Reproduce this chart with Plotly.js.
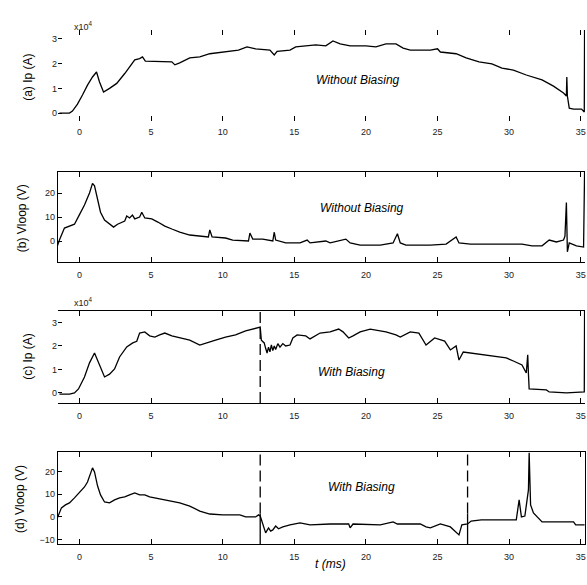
<!DOCTYPE html>
<html><head><meta charset="utf-8">
<script src="https://cdn.plot.ly/plotly-3.0.1.min.js"></script>
<style>body{margin:0;background:#fff}#c{width:587px;height:585px}</style>
</head><body><div id="c"></div>
<script>
// (a) Ip without biasing, units of 1e4 A
const tA = [-1.4,-0.7,-0.49,-0.14,0.21,0.56,0.91,1.19,1.4,1.68,2.1,2.6,3.16,3.58,3.86,4.2,4.4,4.6,5.6,6.45,6.66,7.0,7.7,8.4,9.1,10.2,11.1,11.7,12.3,13.3,13.6,13.8,14.7,15.1,15.8,16.5,17.2,17.7,18.2,18.9,20.0,20.7,21.4,22.1,22.6,23.1,24.5,25.0,25.2,26.3,27.0,27.9,28.8,29.5,30.3,31.2,32.3,33.1,33.8,34.0,34.03,34.07,34.2,34.5,35.06,35.25,35.27];
const ipA = [0,0,0.08,0.36,0.73,1.13,1.46,1.66,1.26,0.85,1.0,1.2,1.6,1.95,2.15,2.2,2.27,2.1,2.07,2.07,1.95,2.03,2.23,2.27,2.4,2.47,2.55,2.68,2.6,2.55,2.35,2.5,2.55,2.68,2.72,2.76,2.72,2.92,2.8,2.72,2.72,2.68,2.8,2.8,2.63,2.55,2.55,2.6,2.47,2.4,2.23,2.07,1.99,1.82,1.74,1.54,1.34,1.09,0.81,0.69,1.46,0.69,0.2,0.16,0.16,0.04,3.4];
// (b) Vloop without biasing, V
const tB = [-1.54,-1.4,-1.05,-0.7,-0.35,0,0.35,0.7,0.91,1.05,1.26,1.47,1.75,2.1,2.38,2.66,3.16,3.3,3.5,3.7,3.86,4.2,4.35,4.56,5.05,5.47,5.96,6.45,7.0,7.7,8.4,9.0,9.1,9.26,10.2,10.7,11.8,11.9,12.1,12.8,13.5,13.6,13.7,14.4,15.4,15.9,16.1,17.2,17.5,18.6,18.9,19.6,21.0,21.9,22.2,22.4,22.8,24.5,25.6,26.1,26.3,26.5,27.3,29.5,30.9,31.6,32.3,32.8,33.3,33.8,33.9,34.0,34.07,34.2,34.7,35.2,35.27];
const vB = [-2,0.4,5.4,6.2,7,11,15,20,24,23,17,12,8.7,7,5.8,7,8.3,10.4,9.6,10.8,9.2,10,12,9.6,9.2,7.9,6.2,5,3.75,2.5,2.1,1.7,4.6,1.7,1.25,0.4,0,3.3,0.8,0.8,0,3.75,0.4,-0.8,-0.8,0.4,-0.8,0,-0.8,0.8,-0.8,-1.7,-1.7,-0.8,3,-0.8,-1.7,-1.7,-1.3,0.8,1.7,-0.8,-1.3,-1.3,-1.3,-2,-2,0.4,-0.4,0.4,2,16,-4.5,-0.8,-2,-2.5,28.7];
// (c) Ip with biasing, units of 1e4 A
const tC = [-1.4,-0.7,-0.35,-0.07,0.35,0.7,1.05,1.4,1.75,2.1,2.45,2.8,3.3,3.72,4.0,4.2,4.56,4.9,5.26,5.6,5.96,6.45,7.0,7.7,8.4,9.0,9.5,10.2,10.9,11.6,12.06,12.62,12.7,12.9,13.0,13.1,13.2,13.3,13.4,13.5,13.6,13.7,13.85,14.0,14.2,14.4,14.7,14.9,15.2,15.8,16.1,16.8,17.5,18.1,18.4,18.8,19.1,19.6,20.3,21.4,22.1,22.4,23.1,23.7,24.2,24.8,25.5,25.9,26.3,26.5,26.8,27.3,28.8,29.8,30.3,30.9,31.2,31.3,31.35,31.4,32.6,32.8,34.0,35.06,35.25,35.27];
const ipC = [-0.05,-0.05,0,0.17,0.68,1.28,1.7,1.2,0.68,0.8,1.02,1.53,1.96,2.13,2.2,2.55,2.6,2.43,2.38,2.47,2.55,2.43,2.34,2.25,2.04,2.17,2.25,2.38,2.47,2.64,2.72,2.8,2.25,2.13,1.9,1.7,1.95,1.75,2.05,1.8,2.0,1.85,2.1,1.95,2.1,2.0,2.04,2.34,2.47,2.43,2.3,2.55,2.6,2.72,2.6,2.34,2.43,2.6,2.72,2.6,2.47,2.38,2.6,2.55,2.04,2.34,2.21,1.83,2.0,1.4,1.74,1.7,1.57,1.49,1.36,1.19,0.85,1.62,0.81,0.17,0.13,0.04,0,0.04,0.04,3.5];
// (d) Vloop with biasing, V
const tD = [-1.54,-1.26,-0.98,-0.7,-0.35,0,0.35,0.56,0.77,0.91,1.05,1.26,1.47,1.75,2.1,2.45,2.8,3.16,3.5,3.86,4.2,4.56,4.9,5.6,6.3,7.0,7.7,8.4,9.1,10.0,11.2,11.6,12.3,12.5,12.62,12.8,12.9,13.0,13.2,13.35,13.5,13.7,13.9,14.2,14.7,15.4,16.1,17.5,18.8,18.9,19.1,21.0,21.9,22.2,23.8,24.2,24.5,25.2,25.9,26.3,26.5,26.7,27.1,27.35,28.05,29.45,30.5,30.7,30.86,31.1,31.35,31.4,31.5,31.7,32.3,34.5,34.65,35.27];
const vD = [-0.4,4,5.3,6.2,8.4,11,13.2,15.4,19,21.6,19.8,13.7,9.7,6.6,6.2,7.5,8.4,8.8,9.7,10.6,9.7,9.7,8.8,7.9,7.0,6.2,4.8,2.6,1.3,0.9,0.9,0,0,0.9,0.4,-3.1,-5.7,-7,-4.8,-6.2,-5.7,-4,-5.2,-4.4,-3.5,-2.6,-3.5,-3.1,-3.1,-4.8,-3.1,-3.5,-2.2,-3.1,-3.1,-4.4,-4.8,-3.1,-4.4,-6.6,-7.9,-3.5,-3.1,-1.8,-1.3,-1.3,-1.3,7.5,0,0.4,11.9,28.2,5.3,1.8,-2.2,-2.2,-3.5,-3.5];
const biasOn = 12.62, biasOff = 27.1;
const xTicks = [0,5,10,15,20,25,30,35];
const ipTicks = [0,1,2,3];
const vTicksB = [0,10,20];
const vTicksD = [-10,0,10,20];
const panelLabels = ['(a) Ip (A)','(b) Vloop (V)','(c) Ip (A)','(d) Vloop (V)'];
const panelNotes = ['Without Biasing','Without Biasing','With Biasing','With Biasing'];

const FONT = 'Liberation Sans, Arial, sans-serif';
const line = {color:'#000', width:1.3};
const traces = [
  {x:tA, y:ipA, xaxis:'x', yaxis:'y', mode:'lines', line},
  {x:tB, y:vB, xaxis:'x2', yaxis:'y2', mode:'lines', line},
  {x:tC, y:ipC, xaxis:'x3', yaxis:'y3', mode:'lines', line},
  {x:tD, y:vD, xaxis:'x4', yaxis:'y4', mode:'lines', line}
];
const xr = [-1.5, 35.3];
function xa(anchor, showline){
  return {anchor, range:xr, tickvals:xTicks, ticks:'inside', ticklen:5, tickwidth:1, tickcolor:'#000',
    mirror: showline==='box' ? 'allticks' : 'ticks', showline: !!showline, linecolor:'#000', linewidth:1.3,
    ticklabelstandoff:4,
    showgrid:false, zeroline:false, tickfont:{family:FONT,size:9,color:'#222'}, domain:[0.0988,0.9966]};
}
function ya(anchor, dom, range, tv, showline){
  return {anchor, domain:dom, range, tickvals:tv, ticks:'inside', ticklen:4, tickwidth:1, tickcolor:'#000',
    showline: !!showline, mirror: showline==='box', linecolor:'#000', linewidth:1.3,
    showgrid:false, zeroline:false, tickfont:{family:FONT,size:9,color:'#222'}};
}
const ann = [];
const labelPos = [[28,0.867],[22,0.627],[28,0.39],[20,0.147]];
panelLabels.forEach((t,i)=>ann.push({text:t, xref:'paper', yref:'paper', x:labelPos[i][0]/587, y:labelPos[i][1],
  textangle:-90, showarrow:false, font:{family:FONT,size:12,color:'#000'}, xanchor:'center', yanchor:'middle'}));
const notePos = [[0.610,0.863],[0.617,0.644],[0.598,0.364],[0.615,0.1675]];
panelNotes.forEach((t,i)=>ann.push({text:'<i>'+t+'</i>', xref:'paper', yref:'paper', x:notePos[i][0], y:notePos[i][1],
  showarrow:false, font:{family:FONT,size:12,color:'#000'}, xanchor:'center', yanchor:'middle'}));
ann.push({text:'x10<sup>4</sup>', xref:'paper', yref:'paper', x:72/587, y:1-18/585, showarrow:false, font:{family:FONT,size:9,color:'#222'}});
ann.push({text:'x10<sup>4</sup>', xref:'paper', yref:'paper', x:72/587, y:1-302/585, showarrow:false, font:{family:FONT,size:9,color:'#222'}});
ann.push({text:'<i>t (ms)</i>', xref:'paper', yref:'paper', x:330/587, y:1-573/585, showarrow:false, font:{family:FONT,size:12,color:'#000'}});

const dash = {color:'#000', width:1.3, dash:'11px,5px'};
const shapes = [
  {type:'line', xref:'x3', yref:'y3 domain', x0:biasOn, x1:biasOn, y0:0, y1:1, line:dash},
  {type:'line', xref:'x4', yref:'y4 domain', x0:biasOn, x1:biasOn, y0:0.33, y1:1, line:dash},
  {type:'line', xref:'x4', yref:'y4 domain', x0:biasOn, x1:biasOn, y0:0, y1:0.33, line:{color:'#000',width:1.3}},
  {type:'line', xref:'x4', yref:'y4 domain', x0:biasOff, x1:biasOff, y0:0.33, y1:1, line:dash},
  {type:'line', xref:'x4', yref:'y4 domain', x0:biasOff, x1:biasOff, y0:0, y1:0.33, line:{color:'#000',width:1.3}}
];
const layout = {
  width:587, height:585, margin:{l:0,r:0,t:0,b:0}, showlegend:false,
  paper_bgcolor:'#fff', plot_bgcolor:'#fff', font:{family:FONT},
  xaxis: xa('y', false),
  yaxis: ya('x', [0.7932,0.9487], [-0.32,3.36], ipTicks, false),
  xaxis2: xa('y2', true),
  yaxis2: ya('x2', [0.5521,0.7060], [-8.75,28.75], vTicksB, true),
  xaxis3: xa('y3', true),
  yaxis3: ya('x3', [0.3111,0.4684], [-0.43,3.49], ipTicks, false),
  xaxis4: xa('y4', 'box'),
  yaxis4: ya('x4', [0.0701,0.2274], [-11.9,28.6], vTicksD, 'box'),
  annotations: ann, shapes
};
Plotly.newPlot('c', traces, layout, {staticPlot:true, displayModeBar:false});
</script></body></html>
